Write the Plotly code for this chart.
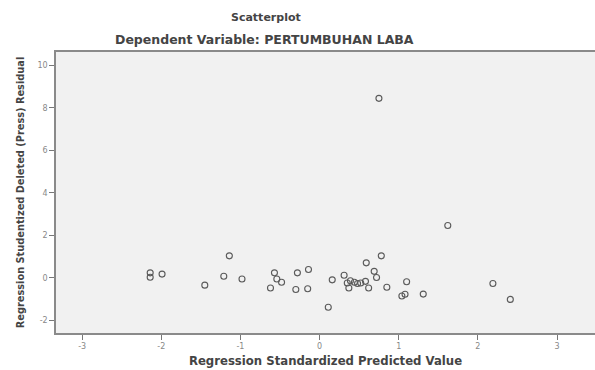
import plotly.graph_objects as go

pred = [-2.14, -2.14, -1.99, -1.14, -1.45, -1.21, -0.98, -0.57, -0.54, -0.48,
        -0.62, -0.28, -0.14, -0.30, -0.15, 0.11, 0.16, 0.31, 0.35, 0.37,
        0.44, 0.52, 0.58, 0.62, 0.59, 0.69, 0.72, 0.78, 0.85, 1.10,
        1.08, 1.04, 1.31, 1.62, 2.19, 2.41, 0.75, 0.39, 0.48]
resid = [0.23, 0.02, 0.17, 1.03, -0.35, 0.07, -0.06, 0.23, -0.06, -0.21,
         -0.48, 0.23, 0.39, -0.55, -0.52, -1.39, -0.10, 0.12, -0.25, -0.48,
         -0.21, -0.25, -0.17, -0.48, 0.70, 0.30, 0.01, 1.03, -0.45, -0.19,
         -0.78, -0.86, -0.77, 2.46, -0.27, -1.02, 8.44, -0.14, -0.27]

x_ticks = [-3, -2, -1, 0, 1, 2, 3]
y_ticks = [-2, 0, 2, 4, 6, 8, 10]

title1 = "Scatterplot"
title2 = "Dependent Variable: PERTUMBUHAN LABA"
x_title = "Regression Standardized Predicted Value"
y_title = "Regression Studentized Deleted (Press) Residual"

W, H = 595, 370
L, R, T, B = 56, 0, 52, 37

fig = go.Figure()
fig.add_trace(go.Scatter(
    x=pred, y=resid, mode="markers",
    marker=dict(symbol="circle-open", size=6, color="#5a5a5a",
                line=dict(width=1.1, color="#5a5a5a")),
    showlegend=False, hoverinfo="skip"))

font_fam = "DejaVu Sans, sans-serif"
fig.update_layout(
    width=W, height=H,
    margin=dict(l=L, r=R, t=T, b=B),
    paper_bgcolor="white",
    plot_bgcolor="#f1f1f1",
    font=dict(family=font_fam, color="#555555"),
    xaxis=dict(range=[-3.33, 3.48], tickvals=x_ticks,
               ticktext=[str(v) for v in x_ticks],
               showgrid=False, zeroline=False,
               showline=True, linecolor="#8a8a8a", linewidth=1.5, mirror=True,
               ticks="outside", ticklen=5, tickcolor="#777777",
               tickfont=dict(size=8, color="#888888"),
               title=dict(text="<b>" + x_title + "</b>",
                          font=dict(size=11.7, color="#444444"), standoff=6)),
    yaxis=dict(range=[-2.6, 10.62], tickvals=y_ticks,
               ticktext=[str(v) for v in y_ticks],
               showgrid=False, zeroline=False,
               showline=True, linecolor="#8a8a8a", linewidth=1.5, mirror=False,
               ticks="outside", ticklen=5, tickcolor="#777777",
               tickfont=dict(size=8, color="#888888"),
               title=dict(text="<b>" + y_title + "</b>",
                          font=dict(size=9.8, color="#444444"), standoff=11)),
)

fig.add_annotation(text="<b>" + title1 + "</b>", xref="paper", yref="paper",
                   x=(266 - L) / (W - L - R), y=1 + (T - 17) / (H - T - B),
                   xanchor="center", yanchor="middle", showarrow=False,
                   font=dict(size=11, color="#444444", family=font_fam))
fig.add_annotation(text="<b>" + title2 + "</b>", xref="paper", yref="paper",
                   x=(264 - L) / (W - L - R), y=1 + (T - 40) / (H - T - B),
                   xanchor="center", yanchor="middle", showarrow=False,
                   font=dict(size=12.5, color="#444444", family=font_fam))

fig.write_html("out.html")
